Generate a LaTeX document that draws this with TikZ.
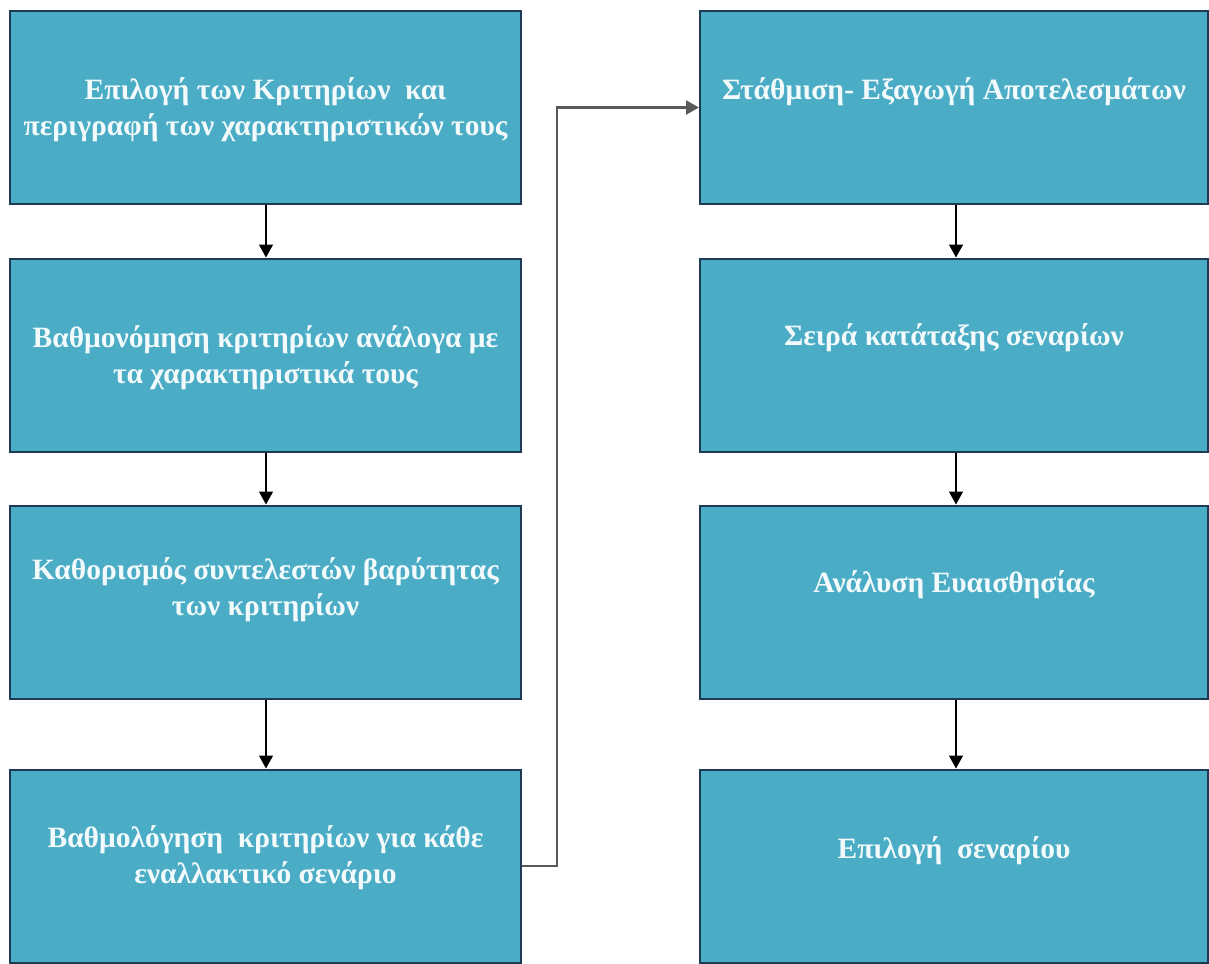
\documentclass[tikz,border=0pt]{standalone}
\usepackage{fontspec}
\setmainfont{Liberation Serif}
\usetikzlibrary{arrows.meta}
\definecolor{boxfill}{HTML}{4BACC6}
\definecolor{boxline}{HTML}{1F3A55}
\definecolor{linkgray}{HTML}{595959}
\definecolor{textwhite}{HTML}{F2FAFC}
\begin{document}
\begin{tikzpicture}[x=1pt,y=-1pt,
  stepbox/.style={draw=boxline,line width=2pt,fill=boxfill,inner sep=0pt,
    minimum height=193pt},
  leftbox/.style={stepbox,minimum width=511pt},
  rightbox/.style={stepbox,minimum width=508pt},
  steptext/.style={text=textwhite,font=\bfseries\fontsize{29.5}{36}\selectfont,align=center,inner sep=0pt},
  flow/.style={draw=black,line width=1.4pt,-{Triangle[width=14pt,length=13pt]}},
  link/.style={draw=linkgray,line width=2.4pt,-{Triangle[width=14pt,length=13pt]}}]
\useasboundingbox (0,0) rectangle (1209,963);
\fill[white] (0,0) rectangle (1209,963);
% left column
\node[leftbox] (b1) at (265.5,107.5) {};
\node[leftbox] (b2) at (265.5,355) {};
\node[leftbox] (b3) at (265.5,602) {};
\node[leftbox] (b4) at (265.5,866) {};
% right column
\node[rightbox] (b5) at (954,107.5) {};
\node[rightbox] (b6) at (954,355) {};
\node[rightbox] (b7) at (954,602) {};
\node[rightbox] (b8) at (954,866) {};
% texts
\node[steptext] (t1) at (265.5,110) {Επιλογή των Κριτηρίων\ \ και\\περιγραφή των χαρακτηριστικών τους};
\node[steptext] (t2) at (265.5,358) {Βαθμονόμηση κριτηρίων ανάλογα με\\τα χαρακτηριστικά τους};
\node[steptext] (t3) at (265.5,590) {Καθορισμός συντελεστών βαρύτητας\\των κριτηρίων};
\node[steptext] (t4) at (265.5,858) {Βαθμολόγηση\ \ κριτηρίων για κάθε\\εναλλακτικό σενάριο};
\node[steptext] (t5) at (954,92) {Στάθμιση- Εξαγωγή Αποτελεσμάτων};
\node[steptext] (t6) at (954,338) {Σειρά κατάταξης σεναρίων};
\node[steptext] (t7) at (954,585) {Ανάλυση Ευαισθησίας};
\node[steptext] (t8) at (954,851) {Επιλογή\ \ σεναρίου};
% arrows
\draw[flow] (b1.south -| 266,0) -- (b2.north -| 266,0);
\draw[flow] (b2.south -| 266,0) -- (b3.north -| 266,0);
\draw[flow] (b3.south -| 266,0) -- (b4.north -| 266,0);
\draw[flow] (b5.south -| 956,0) -- (b6.north -| 956,0);
\draw[flow] (b6.south -| 956,0) -- (b7.north -| 956,0);
\draw[flow] (b7.south -| 956,0) -- (b8.north -| 956,0);
\coordinate (mid) at (557,500);
\draw[link] (b4.east) -- (b4.east -| mid) -- (mid |- b5.west) -- (b5.west);
\end{tikzpicture}
\end{document}
